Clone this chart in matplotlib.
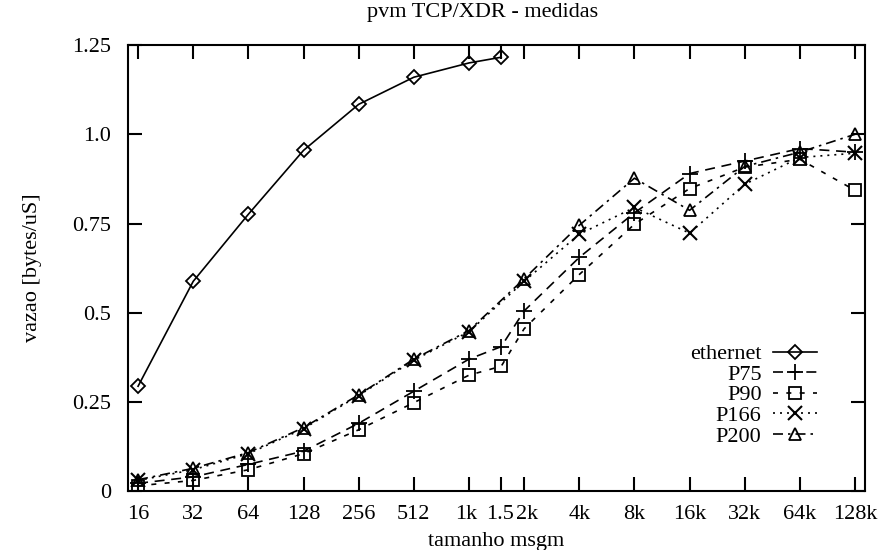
import matplotlib.pyplot as plt
from matplotlib.transforms import ScaledTranslation

plt.rcParams['font.family'] = ['Liberation Serif', 'DejaVu Serif']
plt.rcParams['font.size'] = 16

# message sizes in bytes
sizes_eth = [16, 32, 64, 128, 256, 512, 1024, 1536]
sizes_p = [16, 32, 64, 128, 256, 512, 1024, 1536, 2048, 4096, 8192, 16384, 32768, 65536, 131072]
sizes_q = [16, 32, 64, 128, 256, 512, 1024, 2048, 4096, 8192, 16384, 32768, 65536, 131072]

ethernet = [0.294, 0.588, 0.776, 0.955, 1.084, 1.16, 1.20, 1.216]
p75 = [0.022, 0.040, 0.075, 0.112, 0.19, 0.28, 0.37, 0.405, 0.505, 0.655, 0.78, 0.89, 0.925, 0.96, 0.95]
p90 = [0.015, 0.030, 0.060, 0.105, 0.172, 0.248, 0.325, 0.35, 0.455, 0.607, 0.748, 0.848, 0.908, 0.93, 0.843]
p166 = [0.030, 0.060, 0.105, 0.175, 0.268, 0.367, 0.447, 0.588, 0.72, 0.795, 0.723, 0.86, 0.935, 0.947]
p200 = [0.032, 0.064, 0.108, 0.178, 0.270, 0.370, 0.450, 0.595, 0.745, 0.877, 0.787, 0.91, 0.95, 1.0]

xticks = [16, 32, 64, 128, 256, 512, 1024, 1536, 2048, 4096, 8192, 16384, 32768, 65536, 131072]
xlabels = ['16', '32', '64', '128', '256', '512', '1k', '1.5', '2k', '4k', '8k', '16k', '32k', '64k', '128k']
yticks = [0, 0.25, 0.5, 0.75, 1.0, 1.25]
ylabels = ['0', '0.25', '0.5', '0.75', '1.0', '1.25']

fig = plt.figure(figsize=(8.81, 5.5), dpi=100)
ax = fig.add_axes([0.1453, 0.107, 0.8365, 0.811])

lw = 1.2
ax.plot(sizes_eth, ethernet, color='k', lw=lw, ls='-', marker='D', ms=7,
        mfc='none', mew=1.3, label='ethernet')
ax.plot(sizes_p, p75, color='k', lw=lw, ls=(0, (6, 4)), marker='+', ms=11,
        mew=1.3, label='P75')
ax.plot(sizes_p, p90, color='k', lw=lw, ls=(0, (3, 5)), marker='s', ms=9,
        mfc='none', mew=1.3, label='P90')
ax.plot(sizes_q, p166, color='k', lw=lw, ls=(0, (1.2, 3)), marker='x', ms=10,
        mew=1.5, label='P166')
ax.plot(sizes_q, p200, color='k', lw=lw, ls=(0, (6, 3, 1.5, 3)), marker='^', ms=9,
        mfc='none', mew=1.3, label='P200')

ax.set_xscale('log', base=2)
ax.set_xlim(14.1, 148500)
ax.set_ylim(0, 1.25)
ax.set_xticks(xticks)
ax.set_xticklabels(xlabels)
ax.minorticks_off()
ax.set_yticks(yticks)
ax.set_yticklabels(ylabels)
ax.tick_params(direction='in', length=10, width=1.5, top=True, right=True)
ax.tick_params(axis='x', pad=10)
ax.tick_params(axis='y', pad=12)
for s in ax.spines.values():
    s.set_linewidth(1.5)

# the 1k / 1.5 / 2k labels sit very close together; nudge them apart a little
lbls = ax.get_xticklabels()
for i, dx in [(6, -3), (7, -1), (8, 3)]:
    lbls[i].set_transform(lbls[i].get_transform() + ScaledTranslation(dx / 100, 0, fig.dpi_scale_trans))

ax.set_xlabel('tamanho msgm', labelpad=6)
ax.set_ylabel('vazao [bytes/uS]', labelpad=22)
fig.text(483 / 881, 1 - 12 / 550, 'pvm TCP/XDR - medidas', ha='center', va='center')

ax.legend(loc='lower right', bbox_to_anchor=(0.935, 0.10), frameon=False,
          markerfirst=False, handlelength=2.0, handletextpad=0.5,
          labelspacing=0.0, borderpad=0, borderaxespad=0)

fig.savefig('out.png', dpi=100)
